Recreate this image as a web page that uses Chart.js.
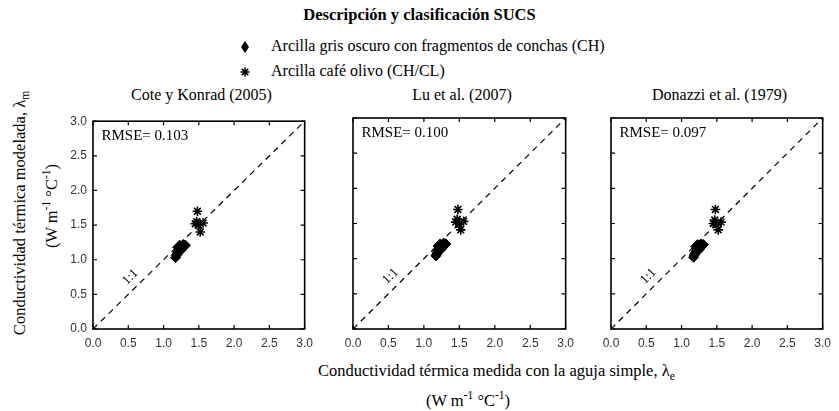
<!DOCTYPE html>
<html>
<head>
<meta charset="utf-8">
<script src="https://cdn.jsdelivr.net/npm/chart.js@4.4.1/dist/chart.umd.min.js"></script>
<style>
  body { margin: 0; background: #fff; }
  #wrap { position: relative; width: 839px; height: 411px; font-family: "Liberation Serif", "Times New Roman", serif; color: #000; }
  .txt { position: absolute; white-space: nowrap; }
  canvas.panel { position: absolute; }
  sub, sup { font-size: 70%; }
</style>
</head>
<body>
<div id="wrap">
  <div class="txt" style="left:0;width:839px;text-align:center;top:5px;font-size:16.5px;font-weight:bold;">Descripción y clasificación SUCS</div>
  <canvas id="leg1" width="14" height="14" style="position:absolute;left:238px;top:40px"></canvas>
  <div class="txt" style="left:271px;top:37px;font-size:16px;">Arcilla gris oscuro con fragmentos de conchas (CH)</div>
  <canvas id="leg2" width="14" height="14" style="position:absolute;left:238px;top:65px"></canvas>
  <div class="txt" style="left:271px;top:62px;font-size:16px;">Arcilla café olivo (CH/CL)</div>

  <div class="txt" id="t0" style="top:86px;font-size:16px;text-align:center;width:217px;left:93px;"></div>
  <div class="txt" id="t1" style="top:86px;font-size:16px;text-align:center;width:218px;left:353px;"></div>
  <div class="txt" id="t2" style="top:86px;font-size:16px;text-align:center;width:217px;left:611px;"></div>

  <div class="txt" style="left:-110px;top:203px;width:260px;text-align:center;font-size:16.5px;transform:rotate(-90deg);transform-origin:130px 10px;">Conductividad térmica modelada, λ<sub>m</sub></div>
  <div class="txt" style="left:-80px;top:196px;width:260px;text-align:center;font-size:16.5px;transform:rotate(-90deg);transform-origin:130px 10px;">(W m<sup>-1</sup> °C<sup>-1</sup>)</div>

  <div class="txt" style="left:318px;top:361px;font-size:16.5px;">Conductividad térmica medida con la aguja simple, λ<sub>e</sub></div>
  <div class="txt" style="left:268px;width:400px;text-align:center;top:389px;font-size:16.5px;">(W m<sup>-1</sup> °C<sup>-1</sup>)</div>

  <canvas class="panel" id="c0"></canvas>
  <canvas class="panel" id="c1"></canvas>
  <canvas class="panel" id="c2"></canvas>
</div>
<script>
// panel titles and errors
const panelTitles = ["Cote y Konrad (2005)", "Lu et al. (2007)", "Donazzi et al. (1979)"];
const rmse = ["0.103", "0.100", "0.097"];
const tickValues = [0, 0.5, 1.0, 1.5, 2.0, 2.5, 3.0];

// measured conductivity (x)
const chX = [1.17, 1.18, 1.19, 1.20, 1.21, 1.22, 1.20, 1.23, 1.25, 1.27, 1.29, 1.31, 1.24, 1.28];
const cafeX = [1.48, 1.47, 1.56, 1.50, 1.52, 1.45];

// modelled conductivity (y) per model
const coteCH = [1.03, 1.06, 1.08, 1.10, 1.12, 1.15, 1.18, 1.21, 1.14, 1.17, 1.19, 1.21, 1.19, 1.22];
const luCH   = [1.04, 1.06, 1.09, 1.10, 1.12, 1.15, 1.18, 1.21, 1.14, 1.17, 1.19, 1.21, 1.19, 1.22];
const donCH  = [1.02, 1.05, 1.07, 1.09, 1.11, 1.14, 1.17, 1.20, 1.13, 1.16, 1.18, 1.20, 1.18, 1.21];
const coteCafe = [1.70, 1.55, 1.53, 1.50, 1.40, 1.52];
const luCafe   = [1.70, 1.56, 1.53, 1.49, 1.41, 1.52];
const donCafe  = [1.70, 1.55, 1.52, 1.48, 1.41, 1.50];

const chY = [coteCH, luCH, donCH];
const cafeY = [coteCafe, luCafe, donCafe];

const plotLeft = [93, 353, 611];
const plotWidth = [217, 218, 217];
const plotTop = 118, plotHeight = 211;
const padL = 40, padR = 10, padT = 10, padB = 30;

const pts = (xs, ys) => xs.map((x, i) => ({ x: x, y: ys[i] }));

const framePlugin = {
  id: "frame",
  afterDatasetsDraw(chart) {
    const ctx = chart.ctx, a = chart.chartArea;
    const xs = chart.scales.x, ys = chart.scales.y;
    ctx.save();
    ctx.strokeStyle = "#000";
    ctx.lineWidth = 1.6;
    ctx.strokeRect(a.left, a.top, a.right - a.left, a.bottom - a.top);
    ctx.lineWidth = 1.2;
    tickValues.forEach(v => {
      const px = xs.getPixelForValue(v), py = ys.getPixelForValue(v);
      ctx.beginPath();
      ctx.moveTo(px, a.bottom); ctx.lineTo(px, a.bottom - 4);
      ctx.moveTo(px, a.top); ctx.lineTo(px, a.top + 4);
      ctx.moveTo(a.left, py); ctx.lineTo(a.left + 4, py);
      ctx.moveTo(a.right, py); ctx.lineTo(a.right - 4, py);
      ctx.stroke();
    });
    // labels
    const idx = chart.options.plugins.frame.idx;
    ctx.fillStyle = "#000";
    ctx.font = "15px 'Liberation Serif'";
    ctx.textBaseline = "middle";
    ctx.fillText("RMSE= " + rmse[idx], xs.getPixelForValue(0.12), ys.getPixelForValue(2.79));
    ctx.translate(xs.getPixelForValue(0.53), ys.getPixelForValue(0.75));
    ctx.rotate(-Math.PI / 4);
    ctx.font = "13px 'Liberation Serif'";
    ctx.textAlign = "center";
    ctx.fillText("1:1", 0, 0);
    ctx.restore();
  }
};

for (let i = 0; i < 3; i++) {
  document.getElementById("t" + i).textContent = panelTitles[i];
  const cv = document.getElementById("c" + i);
  const w = plotWidth[i] + padL + padR, h = plotHeight + padT + padB;
  cv.style.left = (plotLeft[i] - padL) + "px";
  cv.style.top = (plotTop - padT) + "px";
  cv.style.width = w + "px";
  cv.style.height = h + "px";
  cv.width = w; cv.height = h;

  new Chart(cv.getContext("2d"), {
    type: "scatter",
    data: {
      datasets: [
        {
          label: "1:1",
          data: [{ x: 0, y: 0 }, { x: 3, y: 3 }],
          showLine: true,
          borderColor: "#000",
          borderWidth: 1.2,
          borderDash: [6, 5],
          pointRadius: 0,
          order: 3
        },
        {
          label: "Arcilla gris oscuro con fragmentos de conchas (CH)",
          data: pts(chX, chY[i]),
          pointStyle: "rectRot",
          pointRadius: 5,
          backgroundColor: "#000",
          borderColor: "#000",
          borderWidth: 1,
          order: 2
        },
        {
          label: "Arcilla café olivo (CH/CL)",
          data: pts(cafeX, cafeY[i]),
          pointStyle: "star",
          pointRadius: 4.8,
          borderColor: "#000",
          borderWidth: 1.6,
          order: 1
        }
      ]
    },
    options: {
      responsive: false,
      animation: false,
      layout: { padding: { left: 0, right: padR, top: padT, bottom: 0 } },
      plugins: { legend: { display: false }, tooltip: { enabled: false }, frame: { idx: i } },
      scales: {
        x: {
          type: "linear", min: 0, max: 3,
          afterBuildTicks: s => { s.ticks = tickValues.map(v => ({ value: v })); },
          afterFit: s => { s.height = padB; },
          grid: { display: false, drawTicks: false },
          border: { display: false },
          ticks: { callback: v => v.toFixed(1), color: "#333", font: { family: "Liberation Sans", size: 12 }, padding: 7, maxRotation: 0 }
        },
        y: {
          type: "linear", min: 0, max: 3,
          afterBuildTicks: s => { s.ticks = tickValues.map(v => ({ value: v })); },
          afterFit: s => { s.width = padL; },
          grid: { display: false, drawTicks: false },
          border: { display: false },
          ticks: { display: i === 0, callback: v => v.toFixed(1), color: "#333", font: { family: "Liberation Sans", size: 12 }, padding: 6 }
        }
      }
    },
    plugins: [framePlugin]
  });
}

// legend markers
(function () {
  const d = document.getElementById("leg1").getContext("2d");
  d.fillStyle = "#000";
  d.beginPath();
  d.moveTo(7, 1); d.lineTo(11, 7); d.lineTo(7, 13); d.lineTo(3, 7); d.closePath();
  d.fill();
  const s = document.getElementById("leg2").getContext("2d");
  s.strokeStyle = "#000"; s.lineWidth = 1.6;
  s.beginPath();
  for (let k = 0; k < 4; k++) {
    const ang = k * Math.PI / 4;
    s.moveTo(7 + 4.5 * Math.cos(ang), 7 + 4.5 * Math.sin(ang));
    s.lineTo(7 - 4.5 * Math.cos(ang), 7 - 4.5 * Math.sin(ang));
  }
  s.stroke();
})();
</script>
</body>
</html>
